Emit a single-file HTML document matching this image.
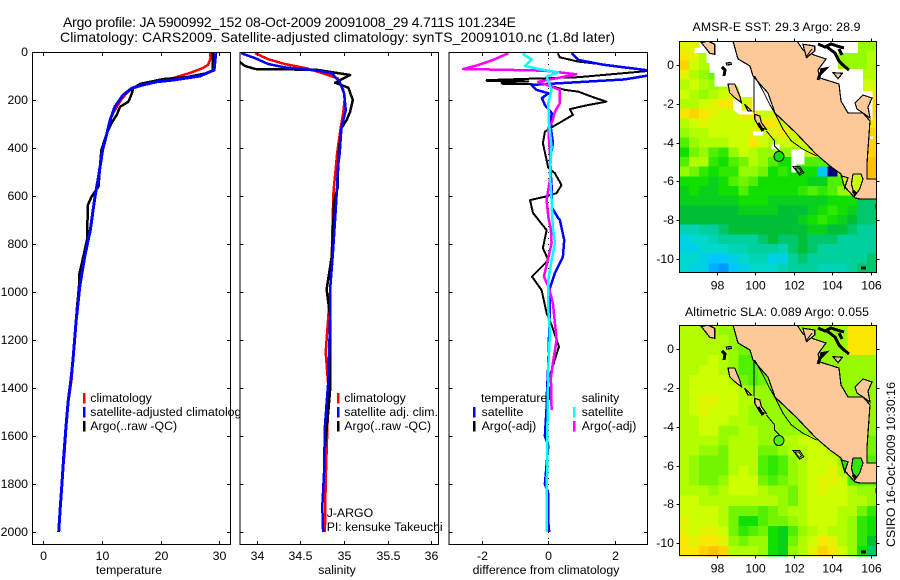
<!DOCTYPE html>
<html lang="en">
<head>
<meta charset="utf-8">
<title>Argo profile chart</title>
<style>
html,body{margin:0;padding:0;background:#fff;}
#chart{display:block;width:900px;height:580px;background:#fff;}
text{font-family:"Liberation Sans",sans-serif;font-size:12.3px;fill:#000;}
.title{font-size:14px;}
</style>
</head>
<body>
<svg id="chart" xmlns="http://www.w3.org/2000/svg" width="900" height="580" viewBox="0 0 900 580">
  <defs>
    <clipPath id="clip-temp"><rect x="32" y="52" width="199" height="493"/></clipPath>
    <clipPath id="clip-sal"><rect x="240" y="52" width="199" height="493"/></clipPath>
    <clipPath id="clip-diff"><rect x="449" y="52" width="199" height="493"/></clipPath>
    <clipPath id="clip-map"><rect x="0" y="0" width="198" height="232"/></clipPath>
  </defs>
  <text class="title" x="63" y="27" textLength="453" lengthAdjust="spacing">Argo profile: JA 5900992_152 08-Oct-2009 20091008_29 4.711S 101.234E</text>
  <text class="title" x="60" y="42" textLength="555" lengthAdjust="spacing">Climatology: CARS2009. Satellite-adjusted climatology: synTS_20091010.nc (1.8d later)</text>
  <g id="panels"></g>
  <g id="maps"></g>
  <text transform="translate(895,547) rotate(-90)" textLength="165" lengthAdjust="spacing">CSIRO 16-Oct-2009 10:30:16</text>
</svg>
<script>
// ---------- axis ticks ----------
const depthTicks = [0,200,400,600,800,1000,1200,1400,1600,1800,2000];
const tempTicks = [0,10,20,30];
const salTicks = [34,34.5,35,35.5,36];
const diffTicks = [-2,0,2];
const lonTicks = [98,100,102,104,106];
const latTicks = [0,-2,-4,-6,-8,-10];

// ---------- temperature panel ----------
const tempClimDepth = [0,25,53,67,87,109,124,137,151,193,262,340,408,505,603,742,846,970,1117,1283,1367,1450,1561,1671,1720];
const tempClimValue = [28.4,28.5,28.1,27.2,25,22.1,19.3,17,15.1,13.4,11.7,10.8,10.1,9.5,8.8,8,7.1,6.25,5.6,5.06,4.8,4.3,3.9,3.6,3.4];
const tempArgoDepth = [0,75,87,105,113,124,133,151,172,207,228,262,297,340,408,463,560,604,637,783,875,929,970,1075,1283,1450];
const tempArgoValue = [28.9,28.9,28.1,24.4,20.4,18.2,16.5,15.3,15.1,14.5,13.1,12.5,11.6,10.8,9.9,9.7,9.4,8.2,7.6,7.45,6.6,6.1,6.1,5.7,5.06,4.3];
const tempSatDepth = [0,75,100,117,124,137,151,179,228,283,353,408,505,603,742,846,970,1117,1283,1367,1450,1561,1671,1796,1908,2000];
const tempSatValue = [29.4,29.1,26.7,22.1,19.3,17,15.1,13.6,12.2,11.4,10.7,10.1,9.5,8.8,8,7.1,6.25,5.6,5.06,4.7,4.26,3.87,3.53,3.19,2.85,2.62];

// ---------- salinity panel ----------
const salClimDepth = [5,30,50,68,89,110,158,190,254,318,422,505,575,686,850,1000,1250,1400,1547,1783,2000];
const salClimValue = [33.98,34.13,34.32,34.57,34.76,34.93,34.99,35.01,34.99,34.96,34.92,34.9,34.88,34.87,34.86,34.84,34.79,34.82,34.81,34.79,34.78];
const salArgoDepth = [40,58,71,72,75,96,128,149,200,249,283,318,422,505,561,630,686,850,990,1100,1408,1492,1650];
const salArgoValue = [33.8,33.86,33.98,34.32,34.7,35.07,34.9,35.05,35.1,35.07,35.03,34.97,34.94,34.93,34.93,34.88,34.88,34.86,34.8,34.84,34.84,34.82,34.78];
const salSatDepth = [5,26,50,64,71,78,89,124,172,242,318,422,478,561,686,850,990,1100,1367,1464,1561,1755,1895,2000];
const salSatValue = [33.82,33.98,34.13,34.32,34.51,34.7,34.86,34.95,35,35.02,34.97,34.95,34.93,34.92,34.9,34.87,34.84,34.84,34.82,34.8,34.78,34.77,34.75,34.76];

// ---------- difference panel ----------
const diffTempSatDepth = [5,33,54,78,96,114,137,158,172,192,221,254,318,380,450,561,646,692,700,783,854,921,983,1046,1300,1450,1480,1600,1640,1800,1840,1960,2000];
const diffTempSatValue = [0.7,0.9,1.7,3.1,3.1,2.3,-0.5,-0.35,0,-0.19,-0.1,0.1,0.08,0.14,0.05,0.1,0.1,0.3,0.35,0.48,0.44,0.2,0.05,0.05,0,-0.05,-0.05,-0.1,0,-0.1,0,0,0.03];
const diffTempArgoDepth = [5,22,40,54,78,105,117,120,122,126,129,133,135,158,165,186,207,221,238,262,290,314,332,380,450,483,505,554,588,603,617,671,742,817,867,936,992,1088,1138,1228,1325,1370,1450];
const diffTempArgoValue = [0.28,0.35,0.9,1.8,3.1,0.9,-1.85,-1.85,-0.6,-1.3,-1.4,-1.36,-0.1,0.5,0.9,1.3,1.75,1.2,0.65,0.74,0.4,0.1,-0.1,-0.16,-0.05,0,0.2,0.4,0.25,-0.1,-0.55,-0.46,-0.05,-0.16,0,-0.49,-0.2,-0.05,0.1,0.32,0.1,0,0.05];
const diffSalArgoDepth = [5,33,54,71,74,78,93,124,158,213,249,283,318,422,505,617,686,742,796,858,936,983,1046,1129,1200,1296,1358,1492];
const diffSalArgoValue = [-1.2,-1.66,-2.1,-2.56,-1.3,-0.1,0.85,-0.3,0.35,0.35,0.2,0.14,0,0.05,0.08,-0.05,0,0.08,0.1,0,-0.13,0.02,0.14,0.2,0.25,0.14,0.08,0.1];
const diffSalSatDepth = [5,15,30,58,71,85,103,158,213,296,395,505,617,688,729,796,867,950,1075,1171,1312,1600,2000];
const diffSalSatValue = [-0.76,-0.7,-0.5,-0.7,-0.3,0.3,-0.05,0.1,0,0.02,0.1,0.05,0.1,0.12,0.14,0.2,0.1,0,0,0.05,0,-0.03,-0.05];

// ---------- map grids (colour-scale values, rows north to south) ----------
const sstGrid = [
[8.5,8.5,7.5,7,7,7,7,7,7,7,7,7,7,7,7,7,7,7,7,7],
[9,8.5,7.5,7,7,7,7,7,7,7,7,7,7,7,7,7,7,7,7,7.5],
[9.5,8,7.5,7,7,7,7,7,7,7,7,7,7,7,7,7,7,7,7,7.5],
[8.5,7.5,7,6.5,7,7,7,7,7,7,7,7,7,7,7,7,7,7.5,7.5,7.5],
[7.5,8,7.5,7,7.5,7,7,7,7,7,7,7,7,7,7,7,7,7.5,8,8],
[8,7.5,7,7.5,8,8.5,8,8,8,8,8,8,8,8,8,8,8,8,8,9],
[7.5,7.5,8,8.5,9,9,8,9,8,8,8,8,8,8,8,8,8,8,8,9.5],
[9,9.5,9,8.5,8,8,9,9,8,8,8,8,8,8,8,8,8,8,8,9.5],
[7.5,8,8.5,8,8,8,8,8,9,9,8,8,8,8,8,8,8,8,8,9],
[7,7.5,7.5,8,8,8,8,8.5,8,8.5,9,8,8,8,8,8,8,8,8,9.5],
[6,7,7.5,7.5,7.5,8,8,9,8,7.5,8,8,8,8,8,8,8,8,8,9.5],
[5,6.5,7,6,5.5,7,8,7.5,7,7,7,7,7.5,8,8,8,8,8,8,9.5],
[6,7.5,7.5,5.5,5,6,6.5,7.5,7,6,5,5,6,6,6,6,6,8,8,10],
[7,6.5,5.5,5,5.5,5.5,7,7,6.5,5,5.5,5,5,5,1,-2,7,7,8,10],
[5,5,5,4.5,5,6,6.5,6,5,5,5,5,5,4.5,4.5,6,6,7,9,10],
[4.5,5,4.5,4.5,5,5,6,5,5,5,5,5,5.5,6,5.5,6,7,7.5,8,9],
[4.5,4.5,4.5,4.5,4.5,4.5,5,5,5,4.5,4.5,4.5,4.5,4.5,4.5,5,5,5,3.5,3.5],
[4,4,4,4,4,4,4.5,4.5,4.5,4.5,4,4,4,4.5,5,5.5,5,4.5,3.5,3.5],
[4,4,4,4,4,4,4,4,4,4,4,4,4.5,5,5.5,5,4.5,4,3.5,3.5],
[2.5,2.5,3,3,3.5,4,4,4,4,4,4,4,4,4.5,4.5,4,4,3.5,3,3],
[1.5,2,2,2.5,3,3,3,3,3.5,4,3.5,3.5,4,3.5,3.5,3.5,3,3,3,3],
[1.5,1.5,2,2,2,2.5,2.5,3,3,3,2.5,3.5,4,3.5,3,3,3,3,3,3],
[2,2,1.5,1,1,1.5,2,2.5,2.5,1.5,1.5,3,3.5,3,3,3,3,3,3,3.5],
[2,1.5,1.5,0.5,0,1,1.5,2,2,2,2.5,3,3,3,2.5,2.5,2.5,3,3.5,3.5]
];
const slaGrid = [
[7.5,7.5,7.5,7.5,7,7,7,7,7,7,7,7,7,7,7,7,7,9,9,9],
[7.5,7.5,7.5,7.5,7.5,7,7,7,7,7,7,7,7,7,7,7,7,9,9,9],
[7.5,7.5,7.5,7.5,7.5,7,6.5,6.5,7,7,7,7,7,7,7,7,7,9,9,9],
[7.5,7.5,7.5,8,7.5,7,6,6,6.5,7,7,7,7,7,7,7,7,7,7,7],
[7.5,7.5,8,8,7.5,7,6,6,6.5,7,7,7,7,7,7,7,7,7,7,7],
[7.5,8,8,8,8,7.5,6.5,6,6.5,7,7,7,7,7,7,7,7,7,7,7],
[7.5,8,8,8,8,8,7.5,7,7,7,7,7,7,7,7,7,7,7,7,7],
[7.5,8,8.5,8.5,8,8,7.5,7.5,7,7,7,7,7,7,7,7,7,7,7,7],
[7.5,8,8.5,8,8,8,7.5,7,7,7,7,7,7,7,7,7,7,7,7,7],
[7.5,7.5,8,8,8,7.5,7.5,7,7,7,7,7,7,7,7,7,7,7,7,7],
[7.5,7.5,8,8,7,7,7.5,7.5,7,7,7,7,7,7,7,7,7,7,7,7],
[7.5,7.5,7.5,7.5,7,7.5,7.5,7.5,7,7,7.5,7.5,8,8,7.5,7,7,7,7,6.5],
[7.5,7.5,7,7,6.5,7.5,7.5,7.5,6.5,6.5,7,7.5,7.5,8,8,7.5,7,7,7,6.5],
[7.5,7,6.5,6.5,6.5,7.5,7.5,7.5,6,5.5,6,7,7.5,8,8,8,7,6,6,6],
[7.5,7,6.5,6.5,6.5,7.5,8,7.5,6,5.5,6,7,7.5,8,8,8.5,7.5,5.5,5.5,6],
[7.5,7,6.5,6.5,7,8,8,8,6.5,6,6.5,7,7.5,8,8.5,8.5,8,6,6,6],
[7.5,7.5,7.5,7,7.5,8,8,8,7.5,7,7,6.5,7.5,8,8.5,8,8,7.5,7,7],
[8,8,7.5,7.5,7.5,7.5,7.5,7.5,7.5,7.5,7,6.5,7.5,8,8,8,8,7.5,7.5,7],
[8,8,8,8,7.5,6.5,6.5,6.5,6,6.5,7,7.5,7.5,8,8,8,7.5,7.5,6.5,5.5],
[8.5,8,8,8,7.5,6.5,5,5,6,6.5,6.5,7,7.5,8,8,8,7.5,7,5.5,5],
[8.5,8,8.5,8.5,8,6.5,5.5,6,6.5,5,4.5,6,7,7.5,8,7.5,7.5,7,5.5,5],
[9,8.5,9,9,8.5,7,6.5,7,7,5,4.5,6.5,7.5,8,9,8.5,7.5,7,5.5,4],
[9,9,9.5,10,9.5,7.5,7.5,7.5,7,5,4.5,7,7.5,8.5,9.5,9,8,7,5,3.5]
];

const NS = 'http://www.w3.org/2000/svg';
function mk(parent, tag, attrs, txt) {
  const el = document.createElementNS(NS, tag);
  for (const k in attrs) el.setAttribute(k, attrs[k]);
  if (txt !== undefined) el.textContent = txt;
  parent.appendChild(el);
  return el;
}
function scale(d0, d1, r0, r1) { return v => r0 + (v - d0) * (r1 - r0) / (d1 - d0); }
const yDepth = scale(0, 2000, 52, 532);

const colorStops = [
  [-2,[0,0,128]],[0,[0,150,255]],[1,[0,200,255]],[2,[0,216,205]],[3,[0,208,155]],
  [4,[0,192,56]],[5,[16,224,0]],[6,[80,240,0]],[7,[150,250,0]],[8,[205,255,0]],[9,[248,232,0]],[10,[255,192,0]]
];
function colorOf(v) {
  for (let i = 1; i < colorStops.length; i++) {
    if (v <= colorStops[i][0]) {
      const a = colorStops[i-1], b = colorStops[i], t = (v - a[0]) / (b[0] - a[0]);
      return 'rgb(' + a[1].map((c, j) => Math.round(c + (b[1][j] - c) * t)).join(',') + ')';
    }
  }
  return 'rgb(255,192,0)';
}

// ---------- profile panels ----------
const panelsRoot = document.getElementById('panels');
function drawPanel(p) {
  const g = mk(panelsRoot, 'g', {});
  
  
  const bg = mk(g, 'rect', {x:p.left, y:52, width:p.right-p.left, height:493, fill:'#fff'});
  
  
  const x = scale(p.dom[0], p.dom[1], p.left, p.right);
  const seriesG = mk(g, 'g', {'clip-path':'url(#' + p.clip + ')'});
  
  
  if (p.zeroLine) {
    const z = mk(seriesG, 'line', {x1:x(0), x2:x(0), y1:52, y2:545, stroke:'#000', 'stroke-width':1, 'stroke-dasharray':'1 5', 'shape-rendering':'crispEdges'});
    
    
  }
  p.series.forEach(s => {
    const pts = s.depth.map((d, i) => x(s.value[i]).toFixed(1) + ',' + yDepth(d).toFixed(1)).join(' ');
    const line = mk(seriesG, 'polyline', {points:pts, fill:'none', stroke:s.color, 'stroke-width':s.width, 'stroke-linejoin':'round', 'shape-rendering':'crispEdges'});
    
    
  });
  const box = mk(g, 'rect', {x:p.left+0.5, y:52.5, width:p.right-p.left-1, height:492, fill:'none', stroke:'#000', 'stroke-width':1, 'shape-rendering':'crispEdges'});
  
  
  depthTicks.forEach(t => {
    const yy = Math.round(yDepth(t)) + 0.5;
    const tk = mk(g, 'path', {d:'M' + p.left + ',' + yy + 'h4M' + p.right + ',' + yy + 'h-4', stroke:'#000', 'stroke-width':1, 'shape-rendering':'crispEdges'});
    
    
    if (p.depthLabels) {
      const lab = mk(g, 'text', {x:28, y:yy+3.5, 'text-anchor':'end'}, String(t));
      
      
    }
  });
  p.ticks.forEach(t => {
    const xx = Math.round(x(t)) + 0.5;
    const tk = mk(g, 'path', {d:'M' + xx + ',52v4M' + xx + ',545v-4', stroke:'#000', 'stroke-width':1, 'shape-rendering':'crispEdges'});
    
    
    const lab = mk(g, 'text', {x:xx, y:560, 'text-anchor':'middle'}, String(t));
    
    
  });
  const xl = mk(g, 'text', {x:p.labelX, y:574, 'text-anchor':'middle'}, p.label);
  
  
  p.legend.forEach(l => {
    const row = mk(g, 'g', {});
    
    
    if (l.color) {
      const sw = mk(row, 'rect', {x:l.sx, y:l.y-9, width:2.5, height:10.5, fill:l.color, 'shape-rendering':'crispEdges'});
      
      
    }
    const tx = mk(row, 'text', {x:l.tx, y:l.y}, l.text);
    
    
  });
}
const R='#ff0000', B='#0000ff', K='#000000', C='#00ffff', M='#ff00ff';
drawPanel({name:'temperature', left:32, right:231, dom:[-1.93,31.98], clip:'clip-temp', ticks:tempTicks, depthLabels:true, label:'temperature', labelX:129,
  series:[
    {name:'temperature-climatology-line', depth:tempClimDepth, value:tempClimValue, color:R, width:2.5},
    {name:'temperature-argo-line', depth:tempArgoDepth, value:tempArgoValue, color:K, width:2.5},
    {name:'temperature-satellite-line', depth:tempSatDepth, value:tempSatValue, color:B, width:3}
  ],
  legend:[
    {color:R, sx:83, tx:90.3, y:402, text:'climatology'},
    {color:B, sx:83, tx:90.3, y:416, text:'satellite-adjusted climatology'},
    {color:K, sx:83, tx:90.3, y:430, text:'Argo(..raw -QC)'}
  ]});
drawPanel({name:'salinity', left:239.5, right:439, dom:[33.8,36.09], clip:'clip-sal', ticks:salTicks, depthLabels:false, label:'salinity', labelX:337,
  series:[
    {name:'salinity-climatology-line', depth:salClimDepth, value:salClimValue, color:R, width:2.5},
    {name:'salinity-argo-line', depth:salArgoDepth, value:salArgoValue, color:K, width:2.5},
    {name:'salinity-satellite-line', depth:salSatDepth, value:salSatValue, color:B, width:2.5}
  ],
  legend:[
    {color:R, sx:337, tx:344.3, y:402, text:'climatology'},
    {color:B, sx:337, tx:344.3, y:416, text:'satellite adj. clim.'},
    {color:K, sx:337, tx:344.3, y:430, text:'Argo(..raw -QC)'},
    {tx:326.7, y:517, text:'J-ARGO'},
    {tx:326.7, y:531, text:'PI: kensuke Takeuchi'}
  ]});
drawPanel({name:'difference', left:448.5, right:648, dom:[-3,3], clip:'clip-diff', ticks:diffTicks, depthLabels:false, zeroLine:true, label:'difference from climatology', labelX:546,
  series:[
    {name:'difference-temperature-argo-line', depth:diffTempArgoDepth, value:diffTempArgoValue, color:K, width:2},
    {name:'difference-temperature-satellite-line', depth:diffTempSatDepth, value:diffTempSatValue, color:B, width:2.5},
    {name:'difference-salinity-argo-line', depth:diffSalArgoDepth, value:diffSalArgoValue, color:M, width:2.5},
    {name:'difference-salinity-satellite-line', depth:diffSalSatDepth, value:diffSalSatValue, color:C, width:2.5}
  ],
  legend:[
    {tx:481, y:402, text:'temperature'},
    {color:B, sx:473, tx:481.6, y:416, text:'satellite'},
    {color:K, sx:473, tx:481.6, y:430, text:'Argo(-adj)'},
    {tx:581.7, y:402, text:'salinity'},
    {color:C, sx:573, tx:581.7, y:416, text:'satellite'},
    {color:M, sx:573, tx:581.7, y:430, text:'Argo(-adj)'}
  ]});

// ---------- maps ----------
const mapsRoot = document.getElementById('maps');
const landPath = 'M54,0 59,18 71,25 74,35 81,43 89,52 96,72 117,92 137,113 151,125 162,133 165,145 176,157 181,158 198,158 198,138 188,138 188,123 189,108 191,80 184,72 169,72 162,60 160,43 141,37 139,29 147,18 135,14 124,9 118,0Z';
const islandPaths = [
  'M22.4,1.7 29,0 35.7,3.3 35.7,13.3 30.7,12.3 27.3,7.7Z',
  'M49,43 55.7,43 60.7,55 62.4,61.7 55.7,56.7 50.7,51.7Z',
  'M47.3,22 52,21.5 52.3,23.5 47.5,24Z',
  'M65.7,63.3 72.4,70 69,70Z',
  'M75.7,73.3 80.7,75 82.4,81.7 87.4,88.3 80.7,86.7 75.7,78.3Z',
  'M176,62 184,54 193,57 189,66 191,77 184,72 178,68Z',
  'M124,3.3 135.7,5 135.7,10 127.4,16.7Z',
  'M154,31.7 163.4,32.3 159,37.7Z'
];
const coastLinePaths = [
  'M75,35V71.7',
  'M75.7,35 84,50 90.7,63.3 97.4,75 104,88.3 112.4,100 124,108.3 137.4,115',
  'M87.4,90 95.7,100 95.7,105 102.4,111.7',
  'M114,125.7 120.7,125.7 124.7,131.7 120.7,134.3 117.4,130Z',
  'M116,127 120,127 122.5,131 120,132.5Z',
  'M133,8 127,16'
];
const blackBlobs = [
  'M139,3 146,6 152,3 158,5 165,7',
  'M148,6 156,12 160,20 165,25 170,29',
  'M160,8 163,14',
  'M141,29 146,28 141,33 139,39',
  'M43,26 46,29 45,35',
  'M79,82 84,90',
  'M174,150 177,153',
  'M198,163V168',
  'M182,227h5'
];
const sstWhite = [
  'M20.7,0 20.7,7 15.7,7 15.7,12 27.3,12 27.3,22 30.7,22 30.7,32 35.7,32 35.7,45.3 59,45.3 62.3,56 73.3,56 73.3,69.3 114,69.3 114,0Z',
  'M44,58.7 54,58.7 54,68.7 60.7,73.7 73.3,73.7 73.3,69.3 62.3,69.3 62.3,58.7Z',
  'M74,90.3h10v4.3h-10Z',
  'M92.3,103.7h8.3v5h-8.3Z',
  'M112.4,108.7h13.3v15h-8.3v8h-5Z',
  'M114,0 179,0 179,12 159,12 159,28 184,28 184,50 193.3,50 193.3,78.7 114,78.7Z',
  'M187.4,95.3h6.7v2.7h-6.7Z'
];
const bayPaths = [
  'M172.4,143 174,133 182,133 184,138 180.7,148 175.7,155Z',
  'M162.3,135 165.7,146.7 169,136.7Z'
];

function drawMap(m) {
  const g = mk(mapsRoot, 'g', {transform:'translate(' + m.left + ',' + m.top + ')'});
  
  
  const title = mk(mapsRoot, 'text', {x:m.titleX, y:m.titleY, textLength:m.titleW, lengthAdjust:'spacing'}, m.title);
  
  
  const inner = mk(g, 'g', {'clip-path':'url(#clip-map)'});
  
  
  const nR = m.grid.length, cw = 198 / m.grid[0].length, ch = m.height / nR;
  m.grid.forEach((row, r) => {
    row.forEach((v, c) => {
      const cell = mk(inner, 'rect', {x:(c*cw).toFixed(2), y:(r*ch).toFixed(2), width:(cw+0.5).toFixed(2), height:(ch+0.5).toFixed(2), fill:colorOf(v), 'shape-rendering':'crispEdges'});
      
      
    });
  });
  if (m.mask) {
    m.mask.forEach(d => {
      const w = mk(inner, 'path', {d:d, fill:'#fff', 'shape-rendering':'crispEdges'});
      
      
    });
  }
  const land = mk(inner, 'path', {d:landPath, fill:'#fdc998', stroke:'#000', 'stroke-width':1.2, 'shape-rendering':'crispEdges'});
  
  
  bayPaths.forEach(d => {
    const b = mk(inner, 'path', {d:d, fill:colorOf(m.bayValue), stroke:'#000', 'stroke-width':1.2, 'shape-rendering':'crispEdges'});
    
    
  });
  islandPaths.forEach(d => {
    const i = mk(inner, 'path', {d:d, fill:'#fdc998', stroke:'#000', 'stroke-width':1.2, 'shape-rendering':'crispEdges'});
    
    
  });
  coastLinePaths.forEach(d => {
    const c = mk(inner, 'path', {d:d, fill:'none', stroke:'#000', 'stroke-width':1, 'shape-rendering':'crispEdges'});
    
    
  });
  blackBlobs.forEach(d => {
    const c = mk(inner, 'path', {d:d, fill:'none', stroke:'#000', 'stroke-width':3, 'shape-rendering':'crispEdges'});
    
    
  });
  const lonX = scale(98, 106, m.x98, m.x106);
  const latY = scale(0, -10, m.y0, m.y10);
  const dot = mk(inner, 'circle', {cx:lonX(m.argoLon), cy:latY(m.argoLat), r:5, fill:colorOf(m.dotValue), stroke:'#000', 'stroke-width':1});
  
  
  const box = mk(g, 'rect', {x:0.5, y:0.5, width:197, height:m.height-1, fill:'none', stroke:'#000', 'stroke-width':1, 'shape-rendering':'crispEdges'});
  
  
  lonTicks.forEach(t => {
    const xx = Math.round(lonX(t)) + 0.5;
    const tk = mk(g, 'path', {d:'M' + xx + ',0v-2.5M' + xx + ',' + m.height + 'v2.5', stroke:'#000', 'stroke-width':1, 'shape-rendering':'crispEdges'});
    
    
    const lab = mk(g, 'text', {x:xx, y:m.height+16.5, 'text-anchor':'middle'}, String(t));
    
    
  });
  latTicks.forEach(t => {
    const yy = Math.round(latY(t)) + 0.5;
    const tk = mk(g, 'path', {d:'M0,' + yy + 'h-2.5M198,' + yy + 'h2.5', stroke:'#000', 'stroke-width':1, 'shape-rendering':'crispEdges'});
    
    
    const lab = mk(g, 'text', {x:-5, y:yy+3.5, 'text-anchor':'end'}, String(t));
    
    
  });
}
drawMap({name:'sst', left:679, top:41, height:232, grid:sstGrid, mask:sstWhite, bayValue:8, dotValue:5, argoLon:101.234, argoLat:-4.711,
  x98:37.7, x106:191.7, y0:24, y10:218, title:'AMSR-E SST: 29.3 Argo: 28.9', titleX:692.5, titleY:31, titleW:168});
drawMap({name:'sla', left:679, top:325, height:231, grid:slaGrid, bayValue:5.5, dotValue:6, argoLon:101.234, argoLat:-4.711,
  x98:37.7, x106:191.7, y0:24.3, y10:218, title:'Altimetric SLA: 0.089 Argo: 0.055', titleX:685, titleY:316, titleW:184});
</script>
</body>
</html>
